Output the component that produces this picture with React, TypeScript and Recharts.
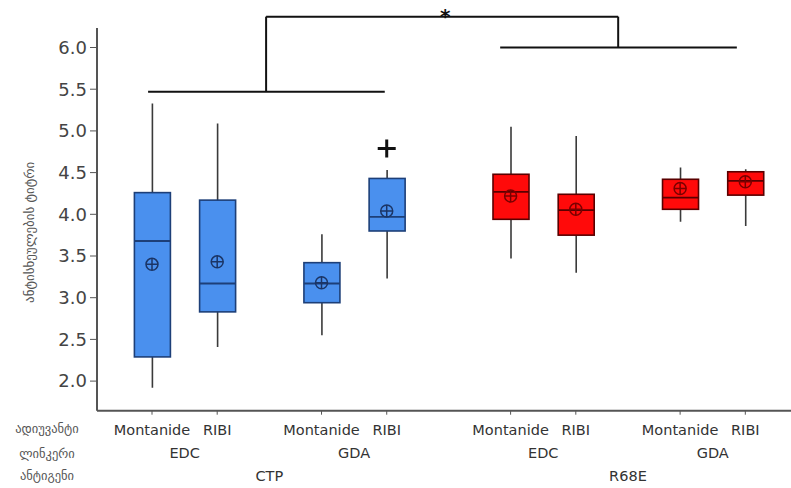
import React from 'react';
import {
  ComposedChart, Bar, Scatter, XAxis, YAxis, ReferenceLine, ReferenceDot,
} from 'recharts';

// ---- data ----
const antigens = ['CTP', 'R68E'];
const linkers = ['EDC', 'GDA'];
const adjuvants = ['Montanide', 'RIBI'];

const whiskerLow = [1.92, 2.41, 2.55, 3.23, 3.47, 3.30, 3.91, 3.86];
const q1 = [2.29, 2.83, 2.94, 3.80, 3.94, 3.75, 4.06, 4.23];
const median = [3.68, 3.17, 3.17, 3.97, 4.27, 4.05, 4.20, 4.40];
const q3 = [4.26, 4.17, 3.42, 4.43, 4.48, 4.24, 4.42, 4.51];
const whiskerHigh = [5.33, 5.09, 3.76, 4.53, 5.05, 4.94, 4.56, 4.54];
const means = [3.40, 3.43, 3.18, 4.04, 4.22, 4.06, 4.31, 4.39];
const outliers = [{ group: 3, value: 4.79 }];

const yTicks = [2.0, 2.5, 3.0, 3.5, 4.0, 4.5, 5.0, 5.5, 6.0];
const yLabel = 'ანტისხეულების ტიტრი';
const rowHeaders = ['ადიუვანტი', 'ლინკერი', 'ანტიგენი'];

// significance brackets (data units)
const groupBrackets = [
  { from: -0.06, to: 3.57, level: 5.47, stem: 1.75 },
  { from: 5.34, to: 8.97, level: 6.0, stem: 7.15 },
];
const topBracketLevel = 6.37;
const sigMark = '*';

// ---- layout helpers ----
const ADJ_STEP = 1;
const LINKER_STEP = 2.6;
const ANTIGEN_STEP = 5.5;

type Row = {
  x: number; antigen: string; linker: string; adjuvant: string;
  range: [number, number]; q1: number; q3: number; median: number; mean: number;
};

const rows: Row[] = [];
antigens.forEach((ag, gi) => {
  linkers.forEach((lk, li) => {
    adjuvants.forEach((ad, ai) => {
      const i = rows.length;
      rows.push({
        x: gi * ANTIGEN_STEP + li * LINKER_STEP + ai * ADJ_STEP,
        antigen: ag, linker: lk, adjuvant: ad,
        range: [whiskerLow[i], whiskerHigh[i]],
        q1: q1[i], q3: q3[i], median: median[i], mean: means[i],
      });
    });
  });
});

const adjTicks = rows.map((r) => r.x);
const adjLabels = rows.map((r) => r.adjuvant);
const linkerTicks: number[] = [];
const linkerLabels: string[] = [];
for (let i = 0; i < rows.length; i += adjuvants.length) {
  const grp = rows.slice(i, i + adjuvants.length);
  linkerTicks.push((grp[0].x + grp[grp.length - 1].x) / 2);
  linkerLabels.push(grp[0].linker);
}
const antigenTicks: number[] = [];
const perAntigen = adjuvants.length * linkers.length;
for (let i = 0; i < rows.length; i += perAntigen) {
  const grp = rows.slice(i, i + perAntigen);
  antigenTicks.push((grp[0].x + grp[grp.length - 1].x) / 2);
}

const outlierData = outliers.map((o) => ({ x: rows[o.group].x, value: o.value, antigen: rows[o.group].antigen }));

const palette: Record<string, { fill: string; stroke: string; mark: string }> = {
  CTP: { fill: '#4a90ee', stroke: '#1d3f78', mark: '#1b3566' },
  R68E: { fill: '#ff0a0a', stroke: '#5a0000', mark: '#7a0000' },
};

const FONT = '"DejaVu Sans", Verdana, sans-serif';
const X_DOMAIN: [number, number] = [-0.8436, 9.8006];
const Y_DOMAIN: [number, number] = [1.645, 6.234];

const BoxShape = (props: any) => {
  const { x, y, width, height, payload } = props;
  const top = Math.min(y, y + height);
  const h = Math.abs(height);
  const [lo, hi] = payload.range;
  const px = h / (hi - lo);
  const yOf = (v: number) => top + (hi - v) * px;
  const cx = x + width / 2;
  const c = palette[payload.antigen];
  return (
    <g>
      <line x1={cx} x2={cx} y1={yOf(hi)} y2={yOf(lo)} stroke="#3a3a3a" strokeWidth={1.6} />
      <rect x={x} y={yOf(payload.q3)} width={width} height={yOf(payload.q1) - yOf(payload.q3)}
        fill={c.fill} stroke={c.stroke} strokeWidth={1.6} />
      <line x1={x} x2={x + width} y1={yOf(payload.median)} y2={yOf(payload.median)} stroke={c.stroke} strokeWidth={1.8} />
    </g>
  );
};

const MeanShape = (props: any) => {
  const { cx, cy, payload } = props;
  const c = palette[payload.antigen];
  const r = 6;
  return (
    <g stroke={c.mark} strokeWidth={1.5} fill="none">
      <circle cx={cx} cy={cy} r={r} />
      <line x1={cx - r} x2={cx + r} y1={cy} y2={cy} />
      <line x1={cx} x2={cx} y1={cy - r} y2={cy + r} />
    </g>
  );
};

const OutlierShape = (props: any) => {
  const { cx, cy } = props;
  const s = 9;
  return (
    <g stroke="#111" strokeWidth={3}>
      <line x1={cx - s} x2={cx + s} y1={cy} y2={cy} />
      <line x1={cx} x2={cx} y1={cy - s} y2={cy + s} />
    </g>
  );
};

const makeTick = (labels: string[], dy: number, header: string, headerDy: number) => (props: any) => {
  const { x, y, index } = props;
  return (
    <g>
      {index === 0 && (
        <text x={47} y={y + headerDy} textAnchor="middle" fontSize={12.5} fill="#555" fontFamily={FONT}>{header}</text>
      )}
      <text x={x} y={y + dy} textAnchor="middle" fontSize={14.5} fill="#333" fontFamily={FONT}>{labels[index]}</text>
    </g>
  );
};

const AdjTick = makeTick(adjLabels, 18, rowHeaders[0], 16);
const LinkerTick = makeTick(linkerLabels, 16, rowHeaders[1], 16);
const AntigenTick = makeTick(antigens, 16, rowHeaders[2], 15);

const YLabel = (props: any) => {
  const vb = props.viewBox;
  const cx = vb.x - 17;
  const cy = vb.y + vb.height / 2 + 13;
  return (
    <text x={cx} y={cy} transform={`rotate(-90 ${cx} ${cy})`} textAnchor="middle" dominantBaseline="central"
      fontSize={13} fill="#555" fontFamily={FONT}>{yLabel}</text>
  );
};

const StarShape = (props: any) => {
  const { cx, cy } = props;
  return (
    <text x={cx + 3} y={cy + 6} textAnchor="middle" fontSize={20} fontWeight="bold" fill="#111" fontFamily={FONT}>{sigMark}</text>
  );
};

export default function App() {
  const axisStroke = '#555';
  const br = { stroke: '#111', strokeWidth: 2, ifOverflow: 'visible' as const };
  return (
    <div style={{ position: 'absolute', left: 0, top: 0, background: '#fff' }}>
      <ComposedChart width={791} height={488} data={rows}
        margin={{ top: 28, right: 0, bottom: 0.3, left: 47 }}>
        <XAxis xAxisId={0} dataKey="x" type="number" domain={X_DOMAIN} allowDataOverflow ticks={adjTicks}
          interval={0} height={31} tickSize={4} tickMargin={2}
          axisLine={{ stroke: axisStroke, strokeWidth: 2 }} tickLine={{ stroke: axisStroke }} tick={<AdjTick />} />
        <XAxis xAxisId="row2" dataKey="x" type="number" domain={X_DOMAIN} allowDataOverflow ticks={linkerTicks}
          interval={0} height={23} tickSize={0} tickMargin={0} axisLine={false} tickLine={false} tick={<LinkerTick />} />
        <XAxis xAxisId="row3" dataKey="x" type="number" domain={X_DOMAIN} allowDataOverflow ticks={antigenTicks}
          interval={0} height={23} tickSize={0} tickMargin={0} axisLine={false} tickLine={false} tick={<AntigenTick />} />
        <XAxis xAxisId="top" orientation="top" dataKey="x" type="number" domain={X_DOMAIN} allowDataOverflow
          height={0} tick={false} tickLine={false} axisLine={{ stroke: axisStroke, strokeWidth: 2 }} />
        <YAxis type="number" domain={Y_DOMAIN} allowDataOverflow ticks={yTicks} width={50} interval={0}
          tickFormatter={(v: number) => v.toFixed(1)} tickSize={7} tickMargin={3}
          tick={{ fontSize: 18, fill: '#444', fontFamily: FONT }}
          axisLine={{ stroke: axisStroke, strokeWidth: 2 }} tickLine={{ stroke: axisStroke }}
          label={<YLabel />} />
        <Bar dataKey="range" barSize={36} shape={<BoxShape />} isAnimationActive={false} />
        <Scatter dataKey="mean" shape={<MeanShape />} isAnimationActive={false} />
        <Scatter data={outlierData} dataKey="value" shape={<OutlierShape />} isAnimationActive={false} />
        {groupBrackets.map((b, i) => (
          <ReferenceLine key={`h${i}`} segment={[{ x: b.from, y: b.level }, { x: b.to, y: b.level }]} {...br} />
        ))}
        {groupBrackets.map((b, i) => (
          <ReferenceLine key={`v${i}`} segment={[{ x: b.stem, y: b.level }, { x: b.stem, y: topBracketLevel }]} {...br} />
        ))}
        <ReferenceLine segment={[{ x: groupBrackets[0].stem, y: topBracketLevel }, { x: groupBrackets[1].stem, y: topBracketLevel }]} {...br} />
        <ReferenceDot x={(groupBrackets[0].stem + groupBrackets[1].stem) / 2} y={topBracketLevel} r={0}
          ifOverflow="visible" shape={<StarShape />} />
      </ComposedChart>
    </div>
  );
}
